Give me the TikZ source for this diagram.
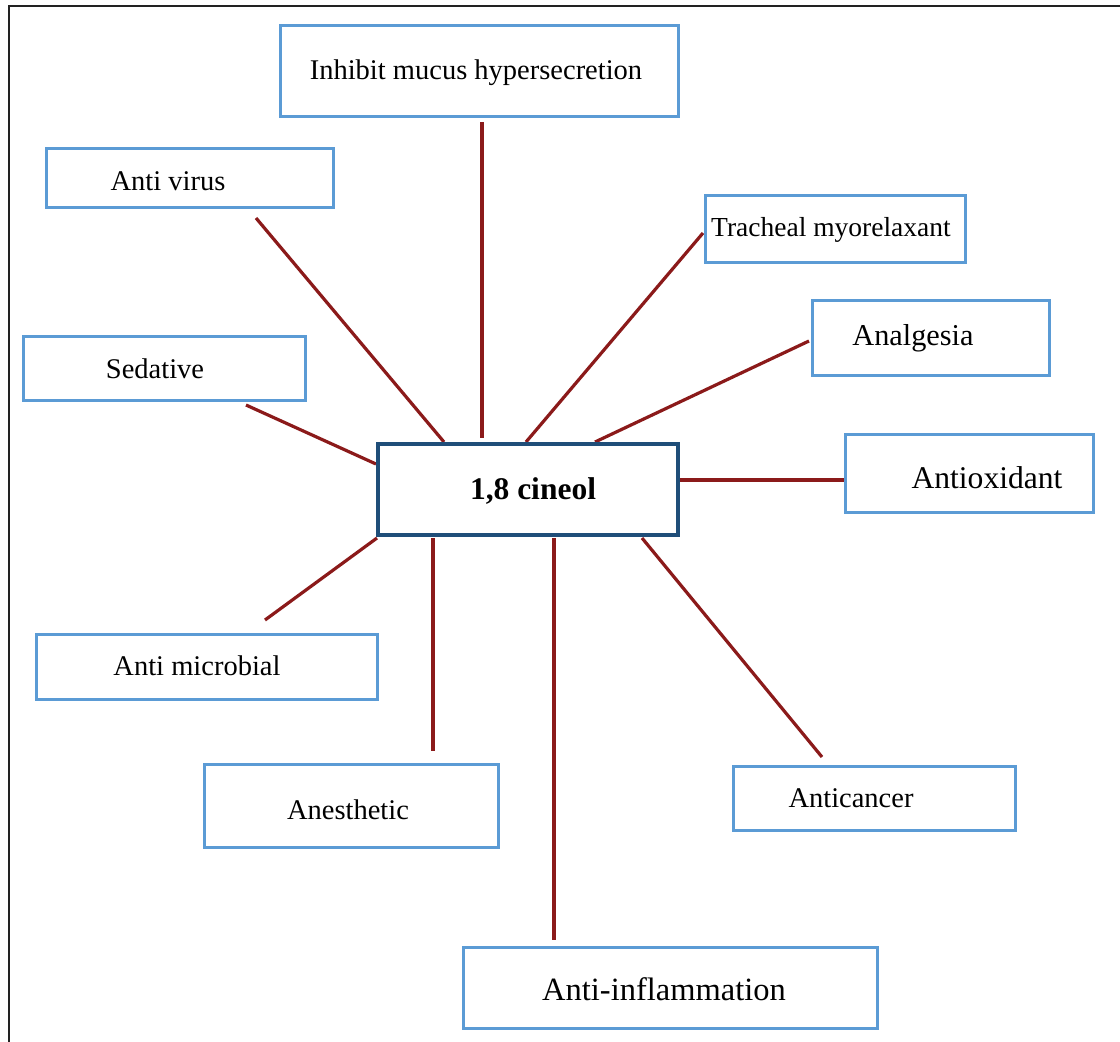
\documentclass[tikz,border=0pt]{standalone}
\usepackage{fontspec}
\setmainfont{Liberation Serif}
\begin{document}
\begin{tikzpicture}[x=1pt,y=-1pt,
  every node/.style={inner sep=0pt,outer sep=0pt},
  effect/.style={draw=effblue,line width=3pt,fill=white,rectangle},
  hub/.style={draw=hubblue,line width=3.4pt,fill=white,rectangle},
  txt/.style={font=\fontsize{28.5}{32}\selectfont,anchor=center},
  link/.style={draw=linkred,line width=3.2pt}]
\definecolor{effblue}{HTML}{5B9BD5}
\definecolor{hubblue}{HTML}{1F4E79}
\definecolor{linkred}{HTML}{8B1A1A}
\definecolor{framegray}{HTML}{222222}
\useasboundingbox (0,0) rectangle (1120,1042);

% page frame
\draw[framegray,line width=2pt] (8.5,1042) -- (8.5,5.5) -- (1120,5.5);

% connectors (drawn first so boxes sit on top)
\coordinate (c-mucus-a) at (482,122);   \coordinate (c-mucus-b) at (482,438);
\coordinate (c-virus-a) at (256,218);   \coordinate (c-virus-b) at (444,442);
\coordinate (c-trach-a) at (703,233);   \coordinate (c-trach-b) at (526,442);
\coordinate (c-analg-a) at (809,341);   \coordinate (c-analg-b) at (595,442);
\coordinate (c-sedat-a) at (246,405);   \coordinate (c-sedat-b) at (376,464);
\coordinate (c-antiox-a) at (680,480);  \coordinate (c-antiox-b) at (845,480);
\coordinate (c-micro-a) at (265,620);   \coordinate (c-micro-b) at (377,538);
\coordinate (c-anest-a) at (433,538);   \coordinate (c-anest-b) at (433,751);
\coordinate (c-infl-a) at (554,538);    \coordinate (c-infl-b) at (554,940);
\coordinate (c-canc-a) at (642,538);    \coordinate (c-canc-b) at (822,757);

\foreach \n in {mucus,virus,trach,analg,sedat,antiox,micro,anest,infl,canc}
  \draw[link] (c-\n-a) -- (c-\n-b);

% central compound
\node[hub,minimum width=300pt,minimum height=91pt] (hub) at (528,489.5) {};
\node[txt,font=\fontsize{31.5}{34}\selectfont\bfseries] (hub-t) at (533,491) {1,8 cineol};

% effect boxes
\node[effect,minimum width=398pt,minimum height=91pt] (mucus) at (479,70.5) {};
\node[txt] (mucus-t) at (476,73) {Inhibit mucus hypersecretion};

\node[effect,minimum width=287pt,minimum height=59pt] (virus) at (189.5,177.5) {};
\node[txt] (virus-t) at (168,181) {Anti virus};

\node[effect,minimum width=260pt,minimum height=67pt] (trach) at (835,228.5) {};
\node[txt,font=\fontsize{27.5}{31}\selectfont] (trach-t) at (831,230) {Tracheal myorelaxant};

\node[effect,minimum width=282pt,minimum height=64pt] (sedat) at (164,368) {};
\node[txt] (sedat-t) at (155,369) {Sedative};

\node[effect,minimum width=237pt,minimum height=75pt] (analg) at (930.5,337.5) {};
\node[txt,font=\fontsize{30.3}{33}\selectfont] (analg-t) at (913,338) {Analgesia};

\node[effect,minimum width=248pt,minimum height=78pt] (antiox) at (969,473) {};
\node[txt,font=\fontsize{31.6}{34}\selectfont] (antiox-t) at (987,478) {Antioxidant};

\node[effect,minimum width=341pt,minimum height=65pt] (micro) at (206.5,666.5) {};
\node[txt] (micro-t) at (197,666) {Anti microbial};

\node[effect,minimum width=294pt,minimum height=83pt] (anest) at (351,805.5) {};
\node[txt] (anest-t) at (348,810) {Anesthetic};

\node[effect,minimum width=282pt,minimum height=64pt] (canc) at (874,798) {};
\node[txt] (canc-t) at (851,798) {Anticancer};

\node[effect,minimum width=414pt,minimum height=81pt] (infl) at (670,987.5) {};
\node[txt,font=\fontsize{32.5}{35}\selectfont] (infl-t) at (664,989) {Anti-inflammation};
\end{tikzpicture}
\end{document}
